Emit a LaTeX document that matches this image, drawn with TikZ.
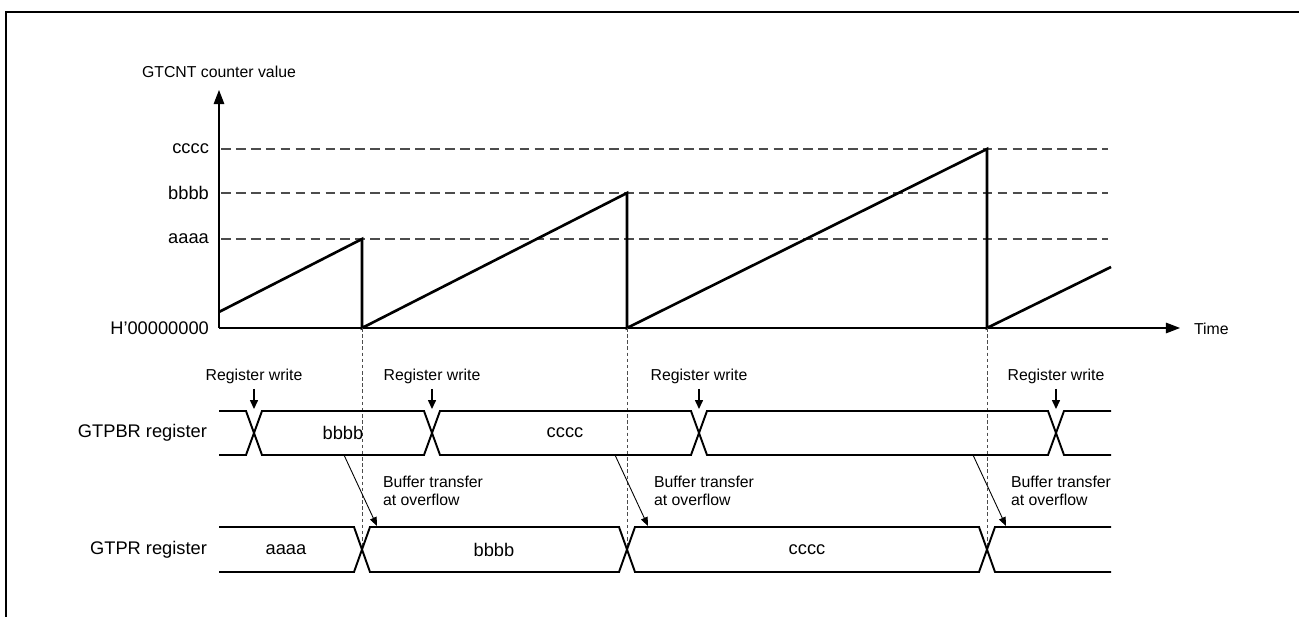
\documentclass[tikz,border=0pt]{standalone}
\usepackage{fontspec}
\setmainfont{Liberation Sans}
\usetikzlibrary{arrows.meta,positioning}

\begin{document}
\begin{tikzpicture}[
  x=0.02cm, y=-0.02cm,
  note/.style={font=\fontsize{9}{10.5}\selectfont, inner sep=1pt, align=left},
  val/.style={font=\fontsize{10.4}{12}\selectfont, inner sep=1pt},
  axis/.style={line width=0.7pt, -{Triangle[length=8pt,width=6pt]}},
  saw/.style={line width=1.5pt, line join=miter},
  guide/.style={line width=0.6pt, gray!60!black, dash pattern=on 5.5pt off 3pt},
  mark line/.style={line width=0.5pt, gray!60!black, dash pattern=on 2pt off 1.5pt},
  bus/.style={line width=1.1pt, line join=miter},
  wr/.style={line width=0.7pt, -{Triangle[length=5pt,width=4.5pt]}, shorten <=2pt},
  xfer/.style={line width=0.5pt, -{Triangle[length=5pt,width=4pt]}}
]
\useasboundingbox (0,0) rectangle (1299,617);
% frame
\draw[line width=1.2pt] (6,617) -- (6,12) -- (1299,12);

% counter axes
\coordinate (origin) at (219,328);
\draw[axis] (origin) -- (219,90);
\draw[axis] (origin) -- (1180,328);
\node[note, font=\fontsize{9}{10.5}\selectfont] (ylabel) at (219,72) {GTCNT counter value};
\node[note, anchor=west] (tlabel) at (1192,329) {Time};

% compare levels
\node[val, anchor=east] (lc) at (211,149) {cccc};
\node[val, anchor=east] (lb) at (211,193) {bbbb};
\node[val, anchor=east] (la) at (211,239) {aaaa};
\node[val, anchor=east] (l0) at (211,328) {H’00000000};
\draw[guide] (221,149) -- (1108,149);
\draw[guide] (221,193) -- (1108,193);
\draw[guide] (221,239) -- (1108,239);

% sawtooth
\draw[saw] (219,312) -- (362,239) -- (362,328) -- (627,193) -- (627,328)
  -- (987,149) -- (987,328) -- (1111,267);

% overflow markers
\draw[mark line] (362,328) -- (362,549);
\draw[mark line] (627,328) -- (627,549);
\draw[mark line] (987,328) -- (987,549);

% GTPBR register
\node[val, anchor=east] (pbr) at (209,433) {GTPBR register};
\draw[bus] (219,411) -- (246,411) -- (262,455) -- (424,455) -- (440,411)
  -- (691,411) -- (707,455) -- (1048,455) -- (1064,411) -- (1111,411);
\draw[bus] (219,455) -- (246,455) -- (262,411) -- (424,411) -- (440,455)
  -- (691,455) -- (707,411) -- (1048,411) -- (1064,455) -- (1111,455);
\node[val] (pbr1) at (343,433) {bbbb};
\node[val] (pbr2) at (565,433) {cccc};

% register writes
\coordinate (w1) at (254,409);
\coordinate (w2) at (432,409);
\coordinate (w3) at (699,409);
\coordinate (w4) at (1056,409);
\node[note] (rw1) at (254,376) {Register write};
\node[note] (rw2) at (432,376) {Register write};
\node[note] (rw3) at (699,376) {Register write};
\node[note] (rw4) at (1056,376) {Register write};
\draw[wr] (rw1) -- (w1);
\draw[wr] (rw2) -- (w2);
\draw[wr] (rw3) -- (w3);
\draw[wr] (rw4) -- (w4);

% GTPR register
\node[val, anchor=east] (pr) at (209,550) {GTPR register};
\draw[bus] (219,527) -- (354,527) -- (370,572) -- (619,572) -- (635,527)
  -- (979,527) -- (995,572) -- (1111,572);
\draw[bus] (219,572) -- (354,572) -- (370,527) -- (619,527) -- (635,572)
  -- (979,572) -- (995,527) -- (1111,527);
\node[val] (pr1) at (286,550) {aaaa};
\node[val] (pr2) at (494,550) {bbbb};
\node[val] (pr3) at (807,550) {cccc};

% buffer transfers
\coordinate (t1a) at (344,455);
\coordinate (t1b) at (377,526);
\coordinate (t2a) at (615,455);
\coordinate (t2b) at (648,526);
\coordinate (t3a) at (973,455);
\coordinate (t3b) at (1006,526);
\draw[xfer] (t1a) -- (t1b);
\draw[xfer] (t2a) -- (t2b);
\draw[xfer] (t3a) -- (t3b);
\node[note, anchor=north west] (bt1) at (381,474) {Buffer transfer\\at overflow};
\node[note, anchor=north west] (bt2) at (652,474) {Buffer transfer\\at overflow};
\node[note, anchor=north west] (bt3) at (1009,474) {Buffer transfer\\at overflow};
\end{tikzpicture}
\end{document}
